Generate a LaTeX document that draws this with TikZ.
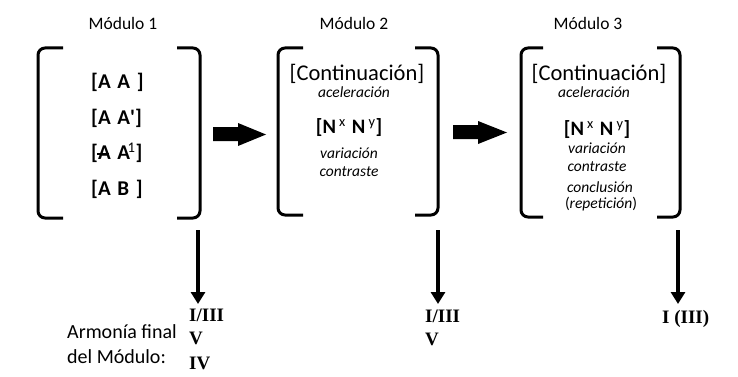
\documentclass[tikz,border=0pt]{standalone}
\usepackage{fontspec}
\setmainfont{Carlito}
\newfontfamily\tnr{Liberation Serif}
\usetikzlibrary{arrows.meta}
\newcommand\strikeA{\makebox[0pt][l]{\kern-0.05em\rule[0.24em]{0.55em}{0.08em}}A}
\newcommand\gap{\hspace{0.32em}}
\begin{document}
\begin{tikzpicture}[x=1pt,y=-1pt,
  every node/.style={inner sep=0pt},
  title/.style={font=\fontsize{17.5}{20}\selectfont},
  brk/.style={line width=3pt, rounded corners=7pt},
  pair/.style={font=\bfseries\fontsize{21}{24}\selectfont, anchor=west},
  nn/.style={font=\bfseries\fontsize{20.5}{24}\selectfont},
  cont/.style={font=\fontsize{22.5}{26}\selectfont},
  itl/.style={font=\itshape\fontsize{15.5}{18}\selectfont},
  lbl/.style={font=\fontsize{20}{24}\selectfont, anchor=base west},
  roman/.style={font=\tnr\bfseries\fontsize{19}{22}\selectfont, anchor=base west},
  down/.style={line width=3.2pt, -{Triangle[width=14pt,length=12pt]}},
  fat/.style={fill=black}]
\useasboundingbox[fill=white] (0,0) rectangle (738,377);

% titles
\node[title] (t1) at (123,23) {Módulo 1};
\node[title] (t2) at (354,23) {Módulo 2};
\node[title] (t3) at (588,23) {Módulo 3};

% brackets
\draw[brk] (63,48) -- (38,48) -- (38,218) -- (63,218);
\draw[brk] (177,48) -- (200,48) -- (200,218) -- (177,218);
\draw[brk] (303,48) -- (278,48) -- (278,215) -- (303,215);
\draw[brk] (415,48) -- (438,48) -- (438,215) -- (415,215);
\draw[brk] (543,48) -- (521,48) -- (521,217) -- (543,217);
\draw[brk] (657,48) -- (680,48) -- (680,217) -- (657,217);

% module 1
\node[pair] (p1) at (91,82) {[A\gap A\gap]};
\node[pair] (p2) at (91,118) {[A\gap A\textquotesingle]};
\node[pair] (p3) at (91,153) {[\strikeA\gap A\kern-0.12em\textsuperscript{\mdseries 1}]};
\node[pair] (p4) at (91,189) {[A\gap B\gap]};

% module 2
\node[cont] (c2) at (357,74) {[Continuación]};
\node[itl] (a2) at (354,92) {aceleración};
\node[nn] (n2) at (349,128) {[N\kern0.15em\textsuperscript{\mdseries x}\hspace{0.3em}N\kern0.15em\textsuperscript{\mdseries y}]};
\node[itl] (v2) at (349,153) {variación};
\node[itl] (k2) at (349,172) {contraste};

% module 3
\node[cont] (c3) at (599,74) {[Continuación]};
\node[itl] (a3) at (594,92) {aceleración};
\node[nn] (n3) at (597,130) {[N\kern0.15em\textsuperscript{\mdseries x}\hspace{0.3em}N\kern0.15em\textsuperscript{\mdseries y}]};
\node[itl] (v3) at (597,148) {variación};
\node[itl] (k3) at (597,167) {contraste};
\node[itl] (e3) at (600,187) {conclusión};
\node[itl] (r3) at (601,204) {\upshape(\itshape repetición\upshape)};

% thick arrows
\fill[fat] (213,127) -- (238,127) -- (238,123) -- (266,134.5) -- (238,146) -- (238,141) -- (213,141) -- cycle;
\fill[fat] (453,125) -- (478,125) -- (478,121) -- (507,132.5) -- (478,144) -- (478,139) -- (453,139) -- cycle;

% labels
\node[lbl] (h1) at (67,338) {Armonía final};
\node[lbl] (h2) at (67,363) {del Módulo:};
\node[roman] (r11) at (189,321) {I/III};
\node[roman] (r12) at (189,344) {V};
\node[roman] (r13) at (189,369) {IV};
\node[roman] (r21) at (425,322) {I/III};
\node[roman] (r22) at (425,345) {V};
\node[roman] (r31) at (662,323) {I (III)};

% down arrows
\coordinate (d1s) at (198,230);
\coordinate (d1e) at (198,304);
\coordinate (d2s) at (438,230);
\coordinate (d2e) at (438,304);
\coordinate (d3s) at (678,230);
\coordinate (d3e) at (678,304);
\draw[down] (d1s) -- (d1e);
\draw[down] (d2s) -- (d2e);
\draw[down] (d3s) -- (d3e);
\end{tikzpicture}
\end{document}
